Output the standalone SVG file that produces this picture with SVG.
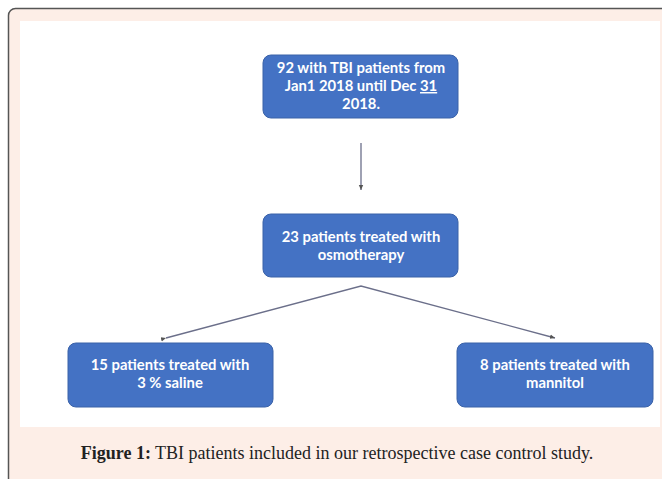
<svg xmlns="http://www.w3.org/2000/svg" width="662" height="479" viewBox="0 0 662 479">
<style>
.box{fill:#4472c4;stroke:#3a62a8;stroke-width:1}
.t{font-family:Lato,"Open Sans","Liberation Sans",sans-serif;font-weight:bold;font-size:14.8px;fill:#ffffff;text-anchor:middle}
.c{stroke:#6b6f8a;stroke-width:1.3;fill:none}
.cap{font-family:"Liberation Serif",serif;font-size:18px;fill:#222}
</style>
<defs>
<marker id="ah" markerWidth="6" markerHeight="6" refX="5" refY="3" orient="auto" markerUnits="userSpaceOnUse">
<path d="M0,0.8 L5,3 L0,5.2 z" fill="#555"/>
</marker>
</defs>
<rect x="0" y="0" width="662" height="479" fill="#ffffff"/>
<rect x="8.5" y="8.5" width="680" height="500" rx="7" fill="#fdeee7" stroke="#555" stroke-width="1.5"/>
<rect x="20" y="21" width="640" height="406" fill="#ffffff"/>
<g id="connectors">
<line class="c" x1="361" y1="143" x2="361" y2="190" marker-end="url(#ah)"/>
<polyline class="c" points="166,338 361,286 555,338" marker-start="url(#ah)" marker-end="url(#ah)"/>
</g>
<g id="n1">
<rect class="box" x="263" y="55" width="195" height="63" rx="8"/>
<text class="t" x="361" y="73">92 with TBI patients from</text>
<text class="t" x="361" y="91">Jan1 2018 until Dec <tspan text-decoration="underline">31</tspan></text>
<text class="t" x="361" y="109">2018.</text>
</g>
<g id="n2">
<rect class="box" x="263" y="214" width="195" height="63" rx="8"/>
<text class="t" x="361" y="242">23 patients treated with</text>
<text class="t" x="361" y="260">osmotherapy</text>
</g>
<g id="n3">
<rect class="box" x="68" y="343" width="205" height="64" rx="8"/>
<text class="t" x="170" y="370">15 patients treated with</text>
<text class="t" x="170" y="388">3 % saline</text>
</g>
<g id="n4">
<rect class="box" x="457" y="343" width="196" height="64" rx="8"/>
<text class="t" x="555" y="370">8 patients treated with</text>
<text class="t" x="555" y="388">mannitol</text>
</g>
<text class="cap" x="337" y="459" text-anchor="middle"><tspan font-weight="bold">Figure 1:</tspan> TBI patients included in our retrospective case control study.</text>
</svg>
